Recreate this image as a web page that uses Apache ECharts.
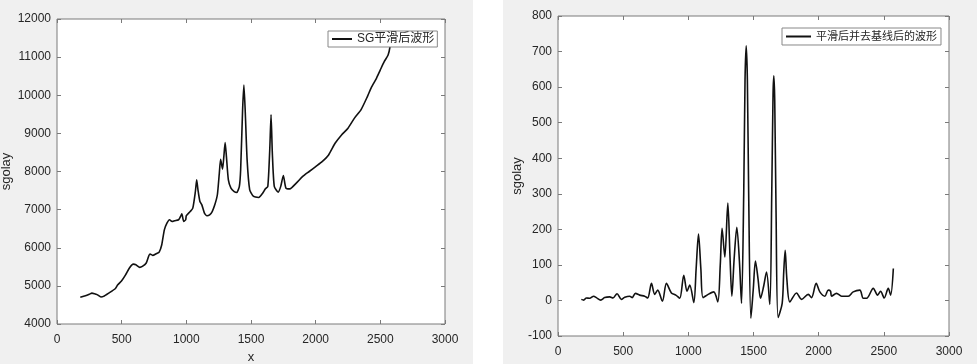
<!DOCTYPE html>
<html>
<head>
<meta charset="utf-8">
<script src="https://cdn.jsdelivr.net/npm/echarts@6/dist/echarts.min.js"></script>
<style>html,body{margin:0;padding:0;background:#fff;}#c{width:977px;height:364px;}</style>
</head>
<body>
<div id="c"></div>
<script>
// Left chart: SG smoothed waveform
var leftX = [180,220,250,270,290,310,340,360,400,450,470,500,530,560,590,610,640,660,690,710,720,740,770,790,810,830,850,870,890,910,940,955,965,980,995,1000,1030,1050,1070,1080,1090,1105,1120,1140,1160,1180,1200,1220,1240,1255,1265,1280,1290,1300,1310,1325,1345,1370,1390,1410,1420,1435,1445,1455,1470,1490,1520,1560,1590,1610,1630,1645,1655,1665,1680,1710,1730,1750,1770,1800,1850,1900,1950,2000,2050,2100,2150,2200,2250,2300,2350,2400,2430,2470,2500,2530,2560,2575,2585];
var leftY = [4700,4740,4780,4810,4795,4770,4710,4725,4810,4925,5030,5135,5290,5470,5570,5555,5485,5510,5600,5790,5835,5800,5850,5885,6080,6470,6645,6735,6690,6710,6735,6820,6890,6690,6735,6840,6950,7040,7475,7780,7520,7215,7125,6910,6840,6865,6950,7125,7390,7955,8320,8060,8390,8760,8390,7780,7565,7475,7450,7610,8045,9615,10270,9615,8305,7520,7345,7320,7430,7540,7610,8570,9485,8480,7610,7460,7610,7895,7565,7545,7695,7870,8000,8130,8260,8435,8740,8960,9135,9400,9615,9965,10200,10445,10665,10880,11055,11275,11600];
// Right chart: smoothed and baseline-removed waveform
var rightX = [179,197,218,243,274,294,328,358,397,422,453,486,512,550,568,594,627,665,688,717,742,765,801,832,870,904,934,965,990,1011,1042,1060,1078,1096,1113,1152,1195,1226,1245,1259,1280,1303,1320,1334,1352,1372,1392,1408,1425,1435,1444,1453,1463,1480,1498,1515,1535,1554,1578,1600,1625,1640,1650,1656,1663,1673,1689,1720,1732,1743,1756,1779,1830,1868,1920,1945,1981,2009,2048,2073,2091,2099,2137,2176,2227,2265,2316,2342,2368,2419,2452,2475,2503,2534,2552,2573];
var rightY = [3,1,7,6,12,8,1,8,10,7,19,3,9,12,8,20,15,12,7,48,17,29,-2,48,21,15,6,71,26,43,-6,90,187,90,8,17,24,-4,100,203,122,274,120,12,120,206,110,-8,300,620,716,620,300,-50,30,111,60,6,40,80,-11,300,580,632,560,250,-48,-8,80,141,60,-4,21,3,17,8,48,24,12,29,26,12,20,12,12,24,29,6,6,34,15,26,7,34,15,90];

function pairs(xs, ys){ var o=[]; for(var i=0;i<xs.length;i++) o.push([xs[i], ys[i]]); return o; }

var axisCol = '#7a7a7a', txtCol = '#262626';
var fontFam = 'Arial, "Liberation Sans", "Noto Sans CJK SC", sans-serif';
function plain(v){ return String(v); }

function mkX(grid, pos, show, extra){
  return Object.assign({
    type:'value', gridIndex:grid, position:pos, min:0, max:3000, interval:500,
    axisLine:{show:false, onZero:false}, splitLine:{show:false},
    axisTick:{show:true, inside:true, length:4, lineStyle:{color:axisCol}},
    axisLabel:{show:show, color:txtCol, fontSize:12, fontFamily:fontFam, margin:10, formatter:plain}
  }, extra||{});
}
function mkY(grid, pos, show, min, max, itv, extra){
  return Object.assign({
    type:'value', gridIndex:grid, position:pos, min:min, max:max, interval:itv,
    axisLine:{show:false, onZero:false}, splitLine:{show:false},
    axisTick:{show:true, inside:true, length:4, lineStyle:{color:axisCol}},
    axisLabel:{show:show, color:txtCol, fontSize:12, fontFamily:fontFam, margin:6, formatter:plain}
  }, extra||{});
}

var chart = echarts.init(document.getElementById('c'), null, {renderer:'canvas'});
chart.setOption({
  backgroundColor:'#f0f0f0',
  animation:false,
  graphic:[{type:'rect', shape:{x:473, y:0, width:30, height:364}, style:{fill:'#ffffff'}, silent:true}],
  grid:[
    {left:57, top:19, width:388, height:305, show:true, backgroundColor:'#fff', borderColor:axisCol, borderWidth:1, outerBoundsMode:'none', containLabel:false},
    {left:558, top:16, width:391, height:320, show:true, backgroundColor:'#fff', borderColor:axisCol, borderWidth:1, outerBoundsMode:'none', containLabel:false}
  ],
  xAxis:[
    mkX(0,'bottom',true,{name:'x', nameLocation:'middle', nameGap:27, nameTextStyle:{color:txtCol, fontSize:13, fontFamily:fontFam}}),
    mkX(0,'top',false),
    mkX(1,'bottom',true),
    mkX(1,'top',false)
  ],
  yAxis:[
    mkY(0,'left',true,4000,12000,1000,{name:'sgolay', nameLocation:'middle', nameGap:44, nameTextStyle:{color:txtCol, fontSize:13, fontFamily:fontFam}}),
    mkY(0,'right',false,4000,12000,1000),
    mkY(1,'left',true,-100,800,100,{name:'sgolay', nameLocation:'middle', nameGap:34, nameTextStyle:{color:txtCol, fontSize:13, fontFamily:fontFam}}),
    mkY(1,'right',false,-100,800,100)
  ],
  legend:[
    {data:['SG平滑后波形'], left:328, top:31, orient:'horizontal', padding:[2,3,2,4], icon:'rect', itemWidth:20, itemHeight:2, itemGap:4,
     backgroundColor:'#fff', borderColor:'#888', borderWidth:1, borderRadius:0,
     textStyle:{color:txtCol, fontSize:12, fontFamily:fontFam}},
    {data:['平滑后并去基线后的波形'], left:782, top:28, orient:'horizontal', padding:[3,4,3,4], icon:'rect', itemWidth:25, itemHeight:2, itemGap:4,
     backgroundColor:'#fff', borderColor:'#888', borderWidth:1, borderRadius:0,
     textStyle:{color:txtCol, fontSize:11, fontFamily:fontFam}}
  ],
  series:[
    {name:'SG平滑后波形', type:'line', xAxisIndex:0, yAxisIndex:0, data:pairs(leftX,leftY), symbol:'none', smooth:0.2,
     lineStyle:{color:'#111', width:1.6}, itemStyle:{color:'#111'}},
    {name:'平滑后并去基线后的波形', type:'line', xAxisIndex:2, yAxisIndex:2, data:pairs(rightX,rightY), symbol:'none', smooth:0.3,
     lineStyle:{color:'#111', width:1.6}, itemStyle:{color:'#111'}}
  ]
});
</script>
</body>
</html>
